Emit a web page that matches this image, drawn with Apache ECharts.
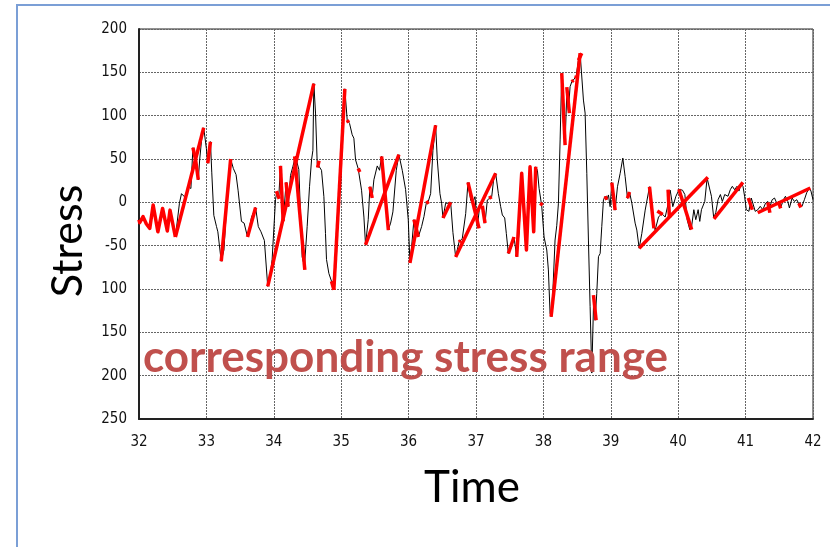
<!DOCTYPE html>
<html><head><meta charset="utf-8">
<script src="https://cdn.jsdelivr.net/npm/echarts@6/dist/echarts.min.js"></script>
<style>html,body{margin:0;padding:0;background:#fff}#c{width:830px;height:547px}</style>
</head><body><div id="c"></div>
<script>
// Time history (black)
const blackTime = [32.00,32.01,32.06,32.11,32.16,32.21,32.28,32.35,32.42,32.46,32.54,32.60,32.63,32.68,32.73,32.77,32.80,32.84,32.88,32.90,32.94,32.96,33.00,33.02,33.06,33.08,33.11,33.15,33.17,33.22,33.26,33.30,33.36,33.40,33.44,33.47,33.52,33.56,33.61,33.67,33.73,33.77,33.81,33.86,33.91,33.94,33.975,
34.025,34.045,34.074,34.099,34.139,34.183,34.213,34.248,34.282,34.322,34.371,34.421,34.455,34.495,34.53,34.56,34.58,34.594,34.619,34.644,34.668,34.708,34.743,34.767,34.782,34.817,34.856,34.891,34.926,34.965,34.99,35.025,35.054,35.089,35.124,35.163,35.188,35.213,35.252,35.277,35.302,35.337,35.361,35.401,35.426,35.46,35.485,35.535,35.569,35.599,35.634,35.658,35.698,35.733,35.767,35.817,35.856,35.906,35.955,35.995,36.02,
36.045,36.079,36.104,36.144,36.193,36.228,36.262,36.292,36.327,36.361,36.401,36.426,36.465,36.49,36.51,36.55,36.589,36.624,36.658,36.698,36.748,36.797,36.847,36.881,36.921,36.946,36.985,37.02,37.054,37.094,37.134,37.168,37.193,37.233,37.267,37.292,37.332,37.366,37.391,37.426,37.45,37.48,37.53,37.564,37.604,37.639,37.678,37.713,37.748,37.777,37.802,37.837,37.856,37.886,37.911,37.936,37.975,
38.01,38.05,38.074,38.099,38.114,38.139,38.173,38.198,38.223,38.248,38.272,38.297,38.322,38.347,38.371,38.396,38.421,38.446,38.485,38.52,38.545,38.569,38.594,38.619,38.644,38.668,38.693,38.718,38.743,38.767,38.792,38.817,38.842,38.866,38.891,38.916,38.941,38.965,38.99,39.015,39.04,39.064,39.099,39.139,39.178,39.213,39.248,39.277,39.312,39.361,39.386,39.421,39.46,39.51,39.535,39.574,39.609,39.658,39.708,39.757,39.807,39.847,39.881,39.92,
39.966,40.015,40.064,40.099,40.133,40.172,40.197,40.232,40.261,40.296,40.32,40.345,40.394,40.429,40.458,40.493,40.527,40.557,40.591,40.626,40.655,40.69,40.739,40.773,40.803,40.837,40.872,40.901,40.936,40.961,40.985,41.01,41.049,41.084,41.108,41.143,41.182,41.217,41.256,41.296,41.33,41.355,41.394,41.429,41.463,41.493,41.527,41.562,41.591,41.626,41.65,41.69,41.724,41.759,41.798,41.837,41.872,41.906,41.946,41.97,42.0];
const blackStress = [-20,-23.5,-16.5,-25,-30,-3,-34,-7,-33,-9,-40,-1,10,6,18,16,63,49,26,49,81,86,62,45,70,34,-15,-28,-34,-68,-55,-5,50,39,32,14,-22,-24,-40,-17,-6,-28,-34,-44,-97,-90,-66,
3,12,6,42,-22,23,-5,31,41,53,38,-63,-74,-28,18,49,60,137,103,45,47,37,6.5,-36,-66,-82,-91,-101,-66,3,18,91,131,95,91,78,74,49,39,37,14,-17,-49,-20,18,6.5,26,42,37,53,30,3,-32,-24,-11,37,55,37,15,-20,-70,
-51,-20,-24,-40,-28,-16.5,-1,1,10,60,89,49,10,-1,-18,-1,-1,0,-35,-63,-46,-41.5,-13,23,2.7,-1,6.5,-28,-5,-7,-24,2.7,4.6,6.5,30,33.5,10,-5,-14.6,-18,-36,-59,-51,-40,-63,-35,33.5,-5,-55,-7,41,2.7,-34,41,37,16,-4,
-40,-55,-78,-128,-132,-105,-43.5,-27,-1,72,149,91,68,126,106,133.5,139,141,145,164,172,170,118,103,33.5,-43.5,-120,-197,-120,-136,-105,-62.7,-59,-28,3,7,3,8.5,-5,22.7,7,-9,18,33.5,51,29.6,4.6,12,-1,-24,-32,-53,-36,-9,-7,18,-13,-32,-17,-13,-17,-3,14,-5,
7,15,14,9,-20,-31.5,-29,-8.5,-20,-8.5,-22,-8.5,1,28,26,7,-18,-12,3,9,1,9,7,14.6,18.5,14.6,18.5,13,22,18.5,7,-8.5,-10.4,5,3,-10.4,-8.5,-4.6,-8.5,-1,1,-6.5,3,5,-1,1,-4.6,3,7,1,-6.5,5,1,3,-2.7,-4.6,3,11,16.5,13,3];

// Corresponding stress ranges (red half-cycles), each a polyline of [time, stress]
const redSegments = [
  [[32.0,-20],[32.01,-23.5],[32.06,-16.5],[32.11,-25],[32.16,-30],[32.21,-3],[32.28,-34],[32.35,-7],[32.42,-33],[32.46,-9],[32.54,-40]],
  [[32.54,-40],[32.96,86]],
  [[32.80,63],[32.84,49],[32.88,26]],
  [[33.02,45],[33.06,70]],
  [[33.22,-68],[33.36,50]],
  [[33.61,-40],[33.73,-6]],
  [[33.91,-97],[34.594,137]],
  [[34.04,13],[34.08,4]],
  [[34.099,42],[34.139,-22]],
  [[34.183,23],[34.213,-5]],
  [[34.31,53],[34.46,-78]],
  [[34.65,40],[34.67,48]],
  [[34.856,-91],[34.891,-101]],
  [[34.891,-101],[35.054,131]],
  [[35.089,95],[35.11,92]],
  [[35.252,39],[35.277,35]],
  [[35.361,-49],[35.856,55]],
  [[35.426,18],[35.46,5]],
  [[35.599,53],[35.70,-32]],
  [[36.02,-70],[36.401,89]],
  [[36.079,-20],[36.144,-40]],
  [[36.262,-1],[36.30,1]],
  [[36.51,-18],[36.624,0]],
  [[36.698,-63],[37.292,33.5]],
  [[36.748,-46],[36.77,-44]],
  [[36.881,23],[37.045,-30]],
  [[37.094,-4],[37.134,-24]],
  [[37.193,4.6],[37.233,6.5]],
  [[37.48,-59],[37.564,-40]],
  [[37.604,-63],[37.678,33.5],[37.748,-55],[37.802,41],[37.856,-34],[37.886,41]],
  [[37.95,-1],[37.99,-3]],
  [[38.114,-132],[38.545,172]],
  [[38.272,149],[38.322,66]],
  [[38.347,133],[38.386,103]],
  [[38.421,139],[38.446,141]],
  [[38.48,143],[38.49,146]],
  [[38.52,164],[38.569,172]],
  [[38.743,-107],[38.782,-136]],
  [[38.916,7],[38.94,3]],
  [[39.015,22.7],[39.064,-9]],
  [[39.248,4.6],[39.277,12]],
  [[39.421,-53],[40.44,29]],
  [[39.574,18],[39.64,-30]],
  [[39.69,-10],[39.77,-14]],
  [[39.85,14.6],[39.87,-18]],
  [[40.01,15],[40.20,-31.5]],
  [[40.53,-19],[40.96,23]],
  [[41.04,5],[41.10,-8.5]],
  [[41.18,-12],[41.96,16.5]],
  [[41.33,0],[41.36,-12]],
  [[41.49,0],[41.52,-7]],
  [[41.79,-1],[41.82,-6]]
];

const yTickValues = [-250,-200,-150,-100,-50,0,50,100,150,200];
const yTickLabels = ['250','200','150','100','-50','0','50','100','150','200'];

const chart = echarts.init(document.getElementById('c'), null, {renderer:'canvas'});
const labelFont = "'Liberation Sans Narrow','DejaVu Sans Condensed','Liberation Sans',sans-serif";
chart.setOption({
  animation:false,
  backgroundColor:'#fff',
  grid:{left:139,right:17,top:29,bottom:128,show:true,borderColor:'#222',borderWidth:1},
  xAxis:{type:'value',min:32,max:42,interval:1,
    axisLine:{show:true,onZero:false,lineStyle:{color:'#222',width:2}},
    axisTick:{show:false},
    axisLabel:{color:'#111',fontSize:15,fontFamily:labelFont,margin:16},
    splitLine:{show:true,lineStyle:{color:'#666',width:1,type:[2,1]}}
  },
  yAxis:{type:'value',min:-250,max:200,interval:50,
    axisLine:{show:true,onZero:false,lineStyle:{color:'#222',width:2}},
    axisTick:{show:false},
    axisLabel:{color:'#111',fontSize:15,fontFamily:labelFont,margin:12,
      formatter:v=>{const i=yTickValues.indexOf(v);return i>=0?yTickLabels[i]:String(v);}},
    splitLine:{show:true,lineStyle:{color:'#666',width:1,type:[2,1]}}
  },
  series:[
    {type:'line',data:blackTime.map((t,i)=>[t,blackStress[i]]),showSymbol:false,symbol:'none',
     lineStyle:{color:'#000',width:1},z:2},
    {type:'lines',coordinateSystem:'cartesian2d',polyline:true,z:3,
     lineStyle:{color:'#ff0000',width:3.5,opacity:1,cap:'butt',join:'round'},
     data:redSegments.map(s=>({coords:s}))}
  ],
  graphic:[
    {type:'rect',shape:{x:17,y:5,width:830,height:560},style:{fill:'none',stroke:'#7b9fd6',lineWidth:2},z:0},
    {type:'text',x:68,y:241,rotation:Math.PI/2,style:{text:'Stress',fontSize:43,fontFamily:'Lato, sans-serif',fill:'#000',align:'center',verticalAlign:'middle'}},
    {type:'text',x:472,y:488,style:{text:'Time',fontSize:44,fontFamily:'Lato, sans-serif',fill:'#000',align:'center',verticalAlign:'middle'}},
    {type:'text',x:143,y:358,z:10,style:{text:'corresponding stress range',fontSize:44,fontWeight:'bold',fontFamily:'Lato, sans-serif',fill:'#c0504d',align:'left',verticalAlign:'middle'}}
  ]
});
</script></body></html>
